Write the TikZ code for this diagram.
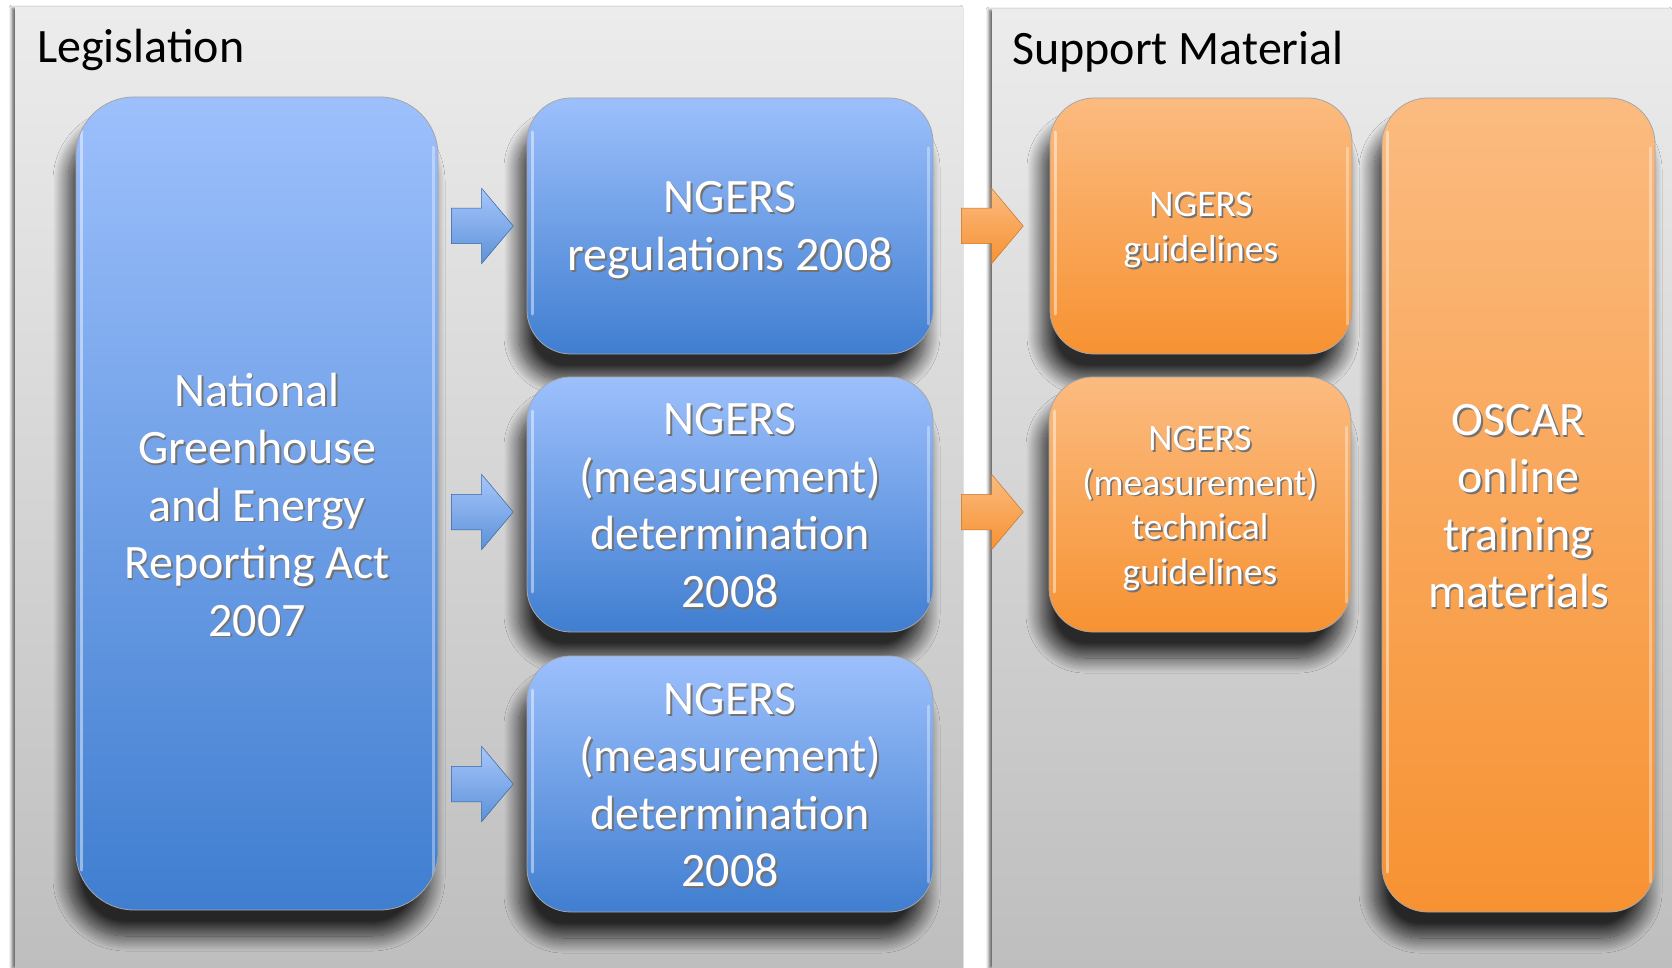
\documentclass[tikz,border=0pt]{standalone}
\usepackage{fontspec}
\setmainfont{Carlito}
\usetikzlibrary{shapes.arrows,shadows.blur}
\definecolor{bluetop}{RGB}{157,192,252}
\definecolor{bluebot}{RGB}{64,126,208}
\definecolor{orgtop}{RGB}{251,187,128}
\definecolor{orgbot}{RGB}{247,146,50}
\definecolor{paneltop}{RGB}{236,236,236}
\definecolor{panelbot}{RGB}{190,190,190}
\newcommand{\shln}[1]{\makebox[0pt][l]{\kern1.8pt\raisebox{-1.8pt}{\textcolor{black!55}{#1}}}#1}
\begin{document}
\begin{tikzpicture}[x=1pt,y=-1pt,
  panel/.style={top color=paneltop, bottom color=panelbot, draw=none,
    blur shadow={shadow xshift=-3pt, shadow yshift=0pt, shadow blur radius=3pt, shadow opacity=60}},
  title/.style={anchor=base west, font=\fontsize{48}{57}\selectfont, text=black, inner sep=0pt},
  gloss/.style={path picture={
    \draw[white, opacity=.45, line width=3pt, line cap=round]
      ([xshift=5pt,yshift=-34pt]path picture bounding box.north west) --
      ([xshift=5pt,yshift=40pt]path picture bounding box.south west);
    \draw[white, opacity=.35, line width=3pt, line cap=round]
      ([xshift=-5pt,yshift=-50pt]path picture bounding box.north east) --
      ([xshift=-5pt,yshift=30pt]path picture bounding box.south east);}},
  box/.style={draw=black!35, line width=0.8pt, inner sep=0pt, gloss,
    blur shadow={shadow xshift=-8pt, shadow yshift=-26pt, shadow blur radius=15pt,
      shadow opacity=80, shadow blur steps=24}},
  bluebox/.style={box, top color=bluetop, bottom color=bluebot},
  orgbox/.style={box, top color=orgtop, bottom color=orgbot},
  boxtext/.style={align=center, text=white, inner sep=0pt},
  bigfont/.style={boxtext, font=\fontsize{48}{57.5}\selectfont},
  smallfont/.style={boxtext, font=\fontsize{37.5}{44.8}\selectfont},
  blockarrow/.style={single arrow, anchor=tail, minimum height=62pt, inner xsep=0pt, inner ysep=17.5pt,
    single arrow head extend=20pt, single arrow tip angle=100, line width=0.5pt},
  bluearrow/.style={blockarrow, draw=bluebot!80!black, top color=bluetop!90!white, bottom color=bluebot!85!white},
  orgarrow/.style={blockarrow, draw=orgbot!80!black, top color=orgtop, bottom color=orgbot}
]
\useasboundingbox (0,0) rectangle (1672,968);
\fill[white] (0,0) rectangle (1672,968);
% panels
\path[panel] (15,8) rectangle (963,968);
\path[panel] (992,10) rectangle (1672,968);
\node[title] (legt) at (37,63) {Legislation};
\node[title] (supt) at (1012,65) {Support Material};
% legislation boxes
\node[bluebox, minimum width=362pt, minimum height=813pt, rounded corners=58pt] (act) at (257,503.5) {};
\node[bluebox, minimum width=406pt, minimum height=256pt, rounded corners=44pt] (reg) at (730,226) {};
\node[bluebox, minimum width=406pt, minimum height=255pt, rounded corners=44pt] (det1) at (730,504.5) {};
\node[bluebox, minimum width=406pt, minimum height=256pt, rounded corners=44pt] (det2) at (730,784) {};
% support boxes
\node[orgbox, minimum width=302pt, minimum height=256pt, rounded corners=44pt] (guide) at (1201,226) {};
\node[orgbox, minimum width=302pt, minimum height=255pt, rounded corners=44pt] (tech) at (1200,504.5) {};
\node[orgbox, minimum width=273pt, minimum height=814pt, rounded corners=46pt] (oscar) at (1518.5,505) {};
% texts
\node[bigfont] (actt) at ([yshift=-2pt]act.center)
  {\shln{National}\\\shln{Greenhouse}\\\shln{and Energy}\\\shln{Reporting Act}\\\shln{2007}};
\node[bigfont] (regt) at ([yshift=-5pt]reg.center) {\shln{NGERS}\\\shln{regulations 2008}};
\node[bigfont] (det1t) at ([yshift=-2pt]det1.center)
  {\shln{NGERS}\\\shln{(measurement)}\\\shln{determination}\\\shln{2008}};
\node[bigfont] (det2t) at ([yshift=-2pt]det2.center)
  {\shln{NGERS}\\\shln{(measurement)}\\\shln{determination}\\\shln{2008}};
\node[smallfont] (guidet) at ([yshift=-5pt]guide.center) {\shln{NGERS}\\\shln{guidelines}};
\node[smallfont] (techt) at ([yshift=-5pt]tech.center)
  {\shln{NGERS}\\\shln{(measurement)}\\\shln{technical}\\\shln{guidelines}};
\node[bigfont] (oscart) at ([yshift=-2pt]oscar.center)
  {\shln{OSCAR}\\\shln{online}\\\shln{training}\\\shln{materials}};
% arrows
\node[bluearrow] (a1) at (451,226) {};
\node[bluearrow] (a2) at (451,512) {};
\node[bluearrow] (a3) at (451,784) {};
\node[orgarrow] (o1) at (961,226) {};
\node[orgarrow] (o2) at (961,512) {};
\end{tikzpicture}
\end{document}
